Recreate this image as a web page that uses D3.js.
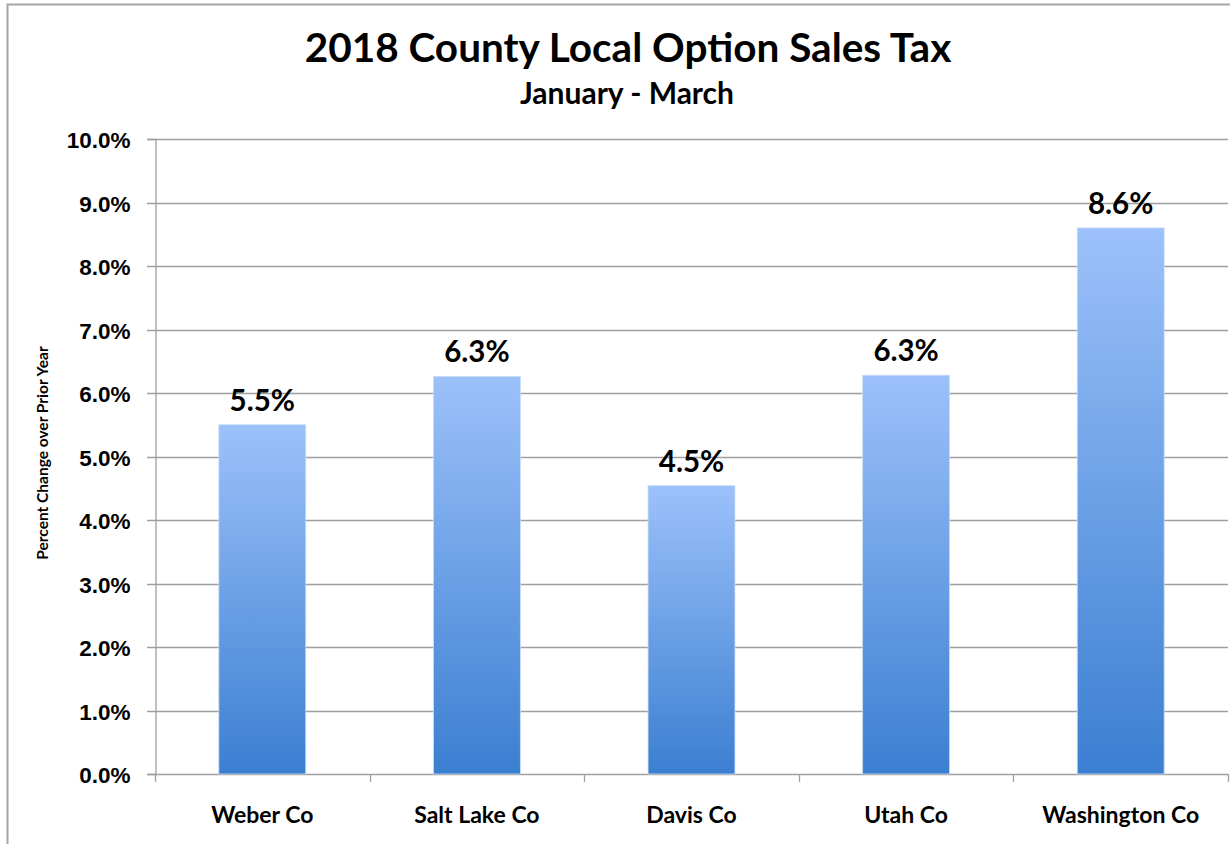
<!DOCTYPE html>
<html>
<head>
<meta charset="utf-8">
<script src="https://cdn.jsdelivr.net/npm/d3@7"></script>
<style>
    body { margin: 0; background: #fff; }
    svg { display: block; font-family: Lato, "Open Sans", sans-serif; }
    .tick text { font-weight: bold; fill: #000; }
</style>
</head>
<body>
<script>
// Chart data
var counties = ["Weber Co", "Salt Lake Co", "Davis Co", "Utah Co",
    "Washington Co"];
var changes = [5.5, 6.26, 4.54, 6.28, 8.6];
var labels = ["5.5%", "6.3%", "4.5%", "6.3%", "8.6%"];
var yTicks = [0, 1, 2, 3, 4, 5, 6, 7, 8, 9, 10];

var W = 1230, H = 844;
var margin = {top: 139, right: 2, bottom: 70, left: 155};

var svg = d3.select("body").append("svg")
    .attr("width", W)
    .attr("height", H);

// Outer frame
svg.append("rect")
    .attr("x", 7.5).attr("y", 4.5)
    .attr("width", W + 10).attr("height", H + 10)
    .attr("fill", "none")
    .attr("stroke", "#a6a6a6")
    .attr("stroke-width", 2);

// Gradient per bar
var grad = svg.append("defs").append("linearGradient")
    .attr("id", "barFill")
    .attr("x1", 0).attr("y1", 0).attr("x2", 0).attr("y2", 1);
grad.append("stop").attr("offset", "0%").attr("stop-color", "#9cc1fa");
grad.append("stop").attr("offset", "100%").attr("stop-color", "#3b7fd1");

var x = d3.scaleBand()
    .domain(counties)
    .range([margin.left, W - margin.right])
    .paddingInner(0.595)
    .paddingOuter(0.2975);

var y = d3.scaleLinear()
    .domain([0, 10])
    .range([H - margin.bottom, margin.top]);

// Gridlines
svg.append("g")
    .selectAll("line")
    .data(yTicks)
    .enter().append("line")
    .attr("x1", margin.left - 8)
    .attr("x2", W - margin.right)
    .attr("y1", function(d) { return Math.round(y(d)) + 0.5; })
    .attr("y2", function(d) { return Math.round(y(d)) + 0.5; })
    .attr("stroke", "#9f9f9f")
    .attr("stroke-width", 1.3);

// Y axis
var yAxis = svg.append("g")
    .attr("transform", "translate(" + (margin.left + 0.5) + ",0)")
    .call(d3.axisLeft(y)
        .tickValues(yTicks)
        .tickSize(8)
        .tickPadding(17)
        .tickFormat(function(d) { return d.toFixed(1) + "%"; }));
yAxis.select(".domain").attr("stroke", "#9f9f9f").attr("stroke-width", 1.3);
yAxis.selectAll(".tick line").remove();
yAxis.selectAll(".tick text")
    .style("font-size", "22.5px")
    .attr("dy", "0.38em");

// X axis tick marks at band boundaries
var step = x.step();
var bounds = d3.range(counties.length + 1).map(function(i) {
    return margin.left + i * step;
});
svg.append("g")
    .selectAll("line")
    .data(bounds)
    .enter().append("line")
    .attr("x1", function(d) { return Math.round(d) + 0.5; })
    .attr("x2", function(d) { return Math.round(d) + 0.5; })
    .attr("y1", y(0))
    .attr("y2", y(0) + 8)
    .attr("stroke", "#9f9f9f")
    .attr("stroke-width", 1.3);

// Bars
svg.append("g")
    .selectAll("rect")
    .data(changes)
    .enter().append("rect")
    .attr("x", function(d, i) { return x(counties[i]); })
    .attr("y", function(d) { return y(d); })
    .attr("width", x.bandwidth())
    .attr("height", function(d) { return y(0) - y(d); })
    .attr("fill", "url(#barFill)")
    .attr("stroke", "#c9dcf7")
    .attr("stroke-width", 0.8);

// Value labels
svg.append("g")
    .selectAll("text")
    .data(changes)
    .enter().append("text")
    .attr("x", function(d, i) { return x(counties[i]) + x.bandwidth() / 2; })
    .attr("y", function(d) { return y(d) - 14; })
    .attr("text-anchor", "middle")
    .style("font-size", "29.5px")
    .style("font-weight", "bold")
    .text(function(d, i) { return labels[i]; });

// Category labels
svg.append("g")
    .selectAll("text")
    .data(counties)
    .enter().append("text")
    .attr("x", function(d) { return x(d) + x.bandwidth() / 2; })
    .attr("y", 823)
    .attr("text-anchor", "middle")
    .style("font-size", "23px")
    .style("font-weight", "bold")
    .text(function(d) { return d; });

// Titles
svg.append("text")
    .attr("x", 628).attr("y", 62)
    .attr("text-anchor", "middle")
    .style("font-size", "40.5px")
    .style("font-weight", "bold")
    .text("2018 County Local Option Sales Tax");

svg.append("text")
    .attr("x", 627).attr("y", 104)
    .attr("text-anchor", "middle")
    .style("font-size", "30px")
    .style("font-weight", "bold")
    .text("January - March");

// Y axis title
svg.append("text")
    .attr("transform", "translate(48,453) rotate(-90)")
    .attr("text-anchor", "middle")
    .style("font-size", "15.5px")
    .style("font-weight", "bold")
    .text("Percent Change over Prior Year");
</script>
</body>
</html>
